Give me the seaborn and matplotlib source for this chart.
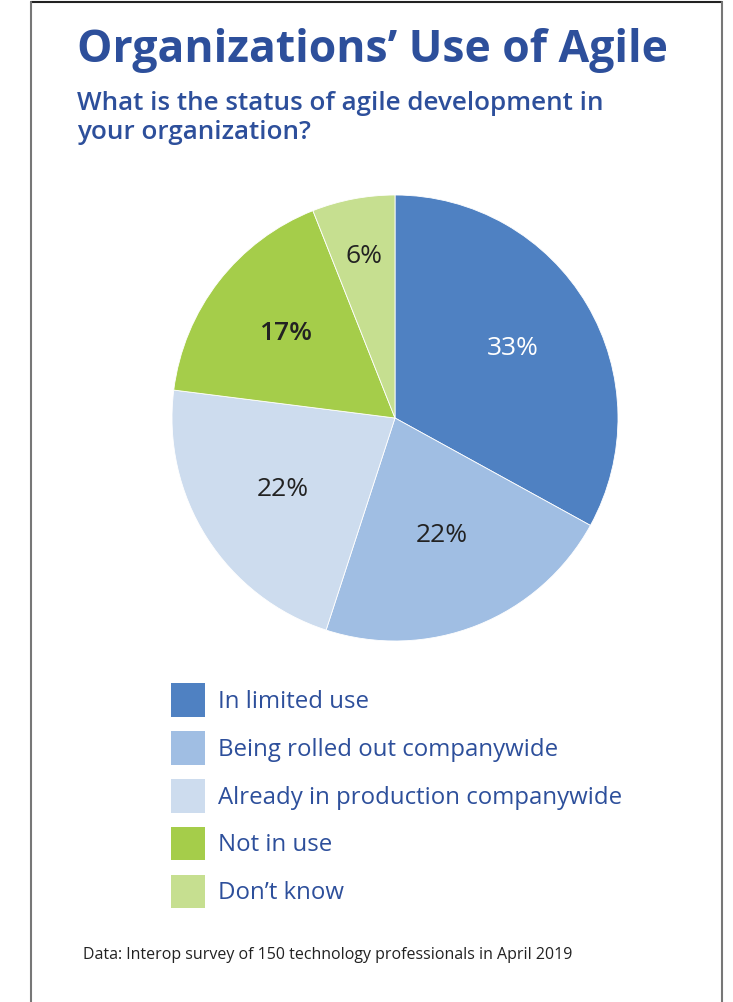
import numpy as np
import seaborn as sns
import matplotlib.pyplot as plt
from matplotlib.lines import Line2D

# Data
categories = ["In limited use", "Being rolled out companywide",
              "Already in production companywide", "Not in use", "Don\u2019t know"]
shares = [33, 22, 22, 17, 6]
pct_labels = ["33%", "22%", "22%", "17%", "6%"]
colors = ["#4f81c2", "#a0bee3", "#cddcee", "#a5cd4a", "#c6df90"]
label_colors = ["white", "#222222", "#222222", "#222222", "#222222"]
label_weights = ["normal", "normal", "normal", "semibold", "normal"]
label_dist = [0.614, 0.569, 0.596, 0.62, 0.739]

sns.set_theme(style="white")
plt.rcParams['font.family'] = ['Open Sans', 'DejaVu Sans']

W, H = 733, 1002
fig = plt.figure(figsize=(W / 100, H / 100), dpi=100)
title_blue = "#2d4f9b"

# pie axes: centre (395, 418), radius 223 px
cx, cy, r = 395, 418, 223
ax = fig.add_axes([(cx - r) / W, 1 - (cy + r) / H, 2 * r / W, 2 * r / H])
wedges, _ = ax.pie(shares, colors=colors, startangle=90, counterclock=False,
                   radius=1, wedgeprops=dict(linewidth=0.6, edgecolor="white"))
for w, lab, c, fw, d in zip(wedges, pct_labels, label_colors, label_weights, label_dist):
    ang = np.deg2rad((w.theta1 + w.theta2) / 2)
    ax.text(d * np.cos(ang), d * np.sin(ang), lab, ha="center", va="center",
            fontsize=19, fontweight=fw, color=c)
ax.set_xlim(-1, 1)
ax.set_ylim(-1, 1)
ax.set_aspect("equal")
ax.axis("off")

# titles
fig.text(77 / W, 1 - 62 / H, "Organizations\u2019 Use of Agile", fontsize=32,
         fontweight="bold", color=title_blue, va="baseline", ha="left")
fig.text(77 / W, 1 - 110 / H, "What is the status of agile development in",
         fontsize=18.75, fontweight="semibold", color=title_blue, va="baseline", ha="left")
fig.text(77 / W, 1 - 139 / H, "your organization?",
         fontsize=18.75, fontweight="semibold", color=title_blue, va="baseline", ha="left")

# legend
leg = fig.legend(wedges, categories, loc="upper left",
                 bbox_to_anchor=(152 / W, 1 - 664 / H), frameon=False,
                 fontsize=17.3, labelcolor=title_blue,
                 handlelength=1.4, handleheight=1.78, handletextpad=0.55,
                 labelspacing=0.59, borderpad=0.3)
for h in leg.legend_handles:
    h.set_edgecolor("none")

# footer
fig.text(83 / W, 1 - 959 / H, "Data: Interop survey of 150 technology professionals in April 2019",
         fontsize=11.5, color="#222222", va="baseline", ha="left")

# page border
fig.add_artist(Line2D([31 / W, 722 / W], [1 - 2 / H, 1 - 2 / H], color="#222222", lw=1.5))
fig.add_artist(Line2D([31 / W, 31 / W], [0, 1 - 2 / H], color="#777777", lw=1.5))
fig.add_artist(Line2D([722 / W, 722 / W], [0, 1 - 2 / H], color="#777777", lw=1.5))

fig.savefig("out.png", dpi=100)
